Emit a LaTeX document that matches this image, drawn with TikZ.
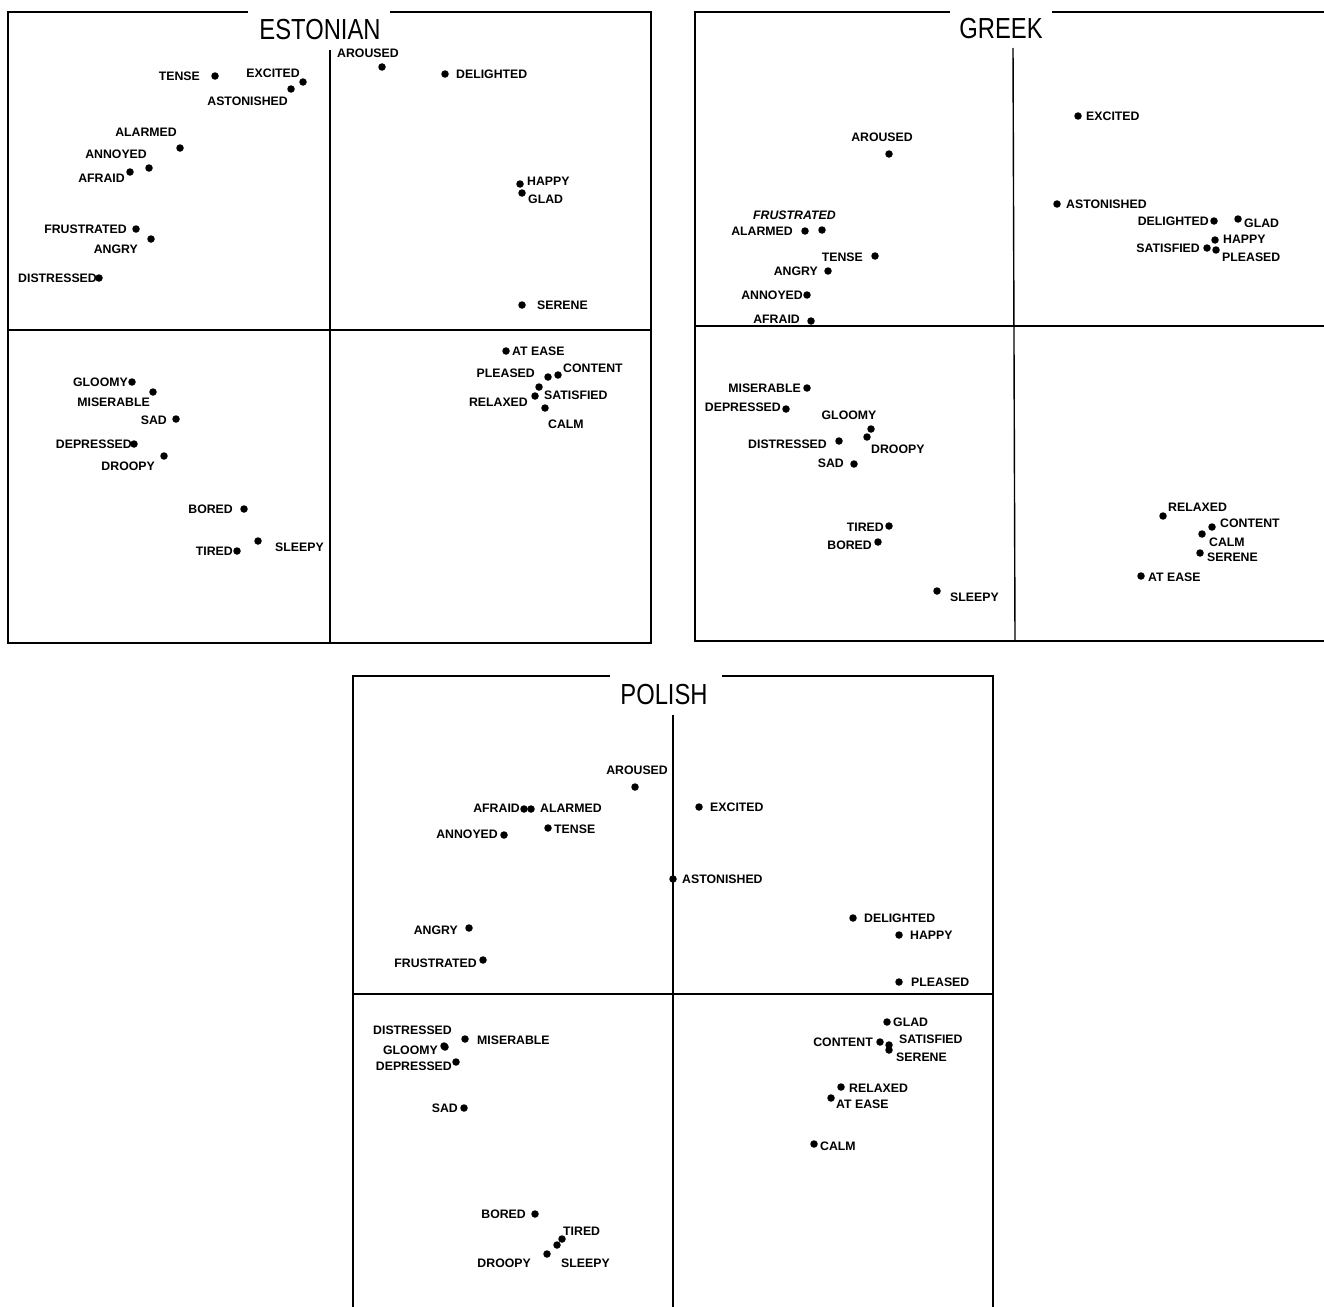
\documentclass[tikz,border=0pt]{standalone}
\usepackage{fontspec}
\setmainfont{Liberation Sans}
\newfontfamily\labfont{Liberation Sans}
\newfontfamily\titfont[FakeStretch=0.82]{Liberation Sans}
\tikzset{
  dot/.style={circle, fill=black, inner sep=0pt, minimum size=7.5pt},
  lab/.style={font=\labfont\bfseries\fontsize{12.3}{14}\selectfont, inner sep=0pt, text height=8.8pt, text depth=0pt},
  frame/.style={line width=2pt, line join=miter},
  axisline/.style={line width=1.4pt},
  ttl/.style={font=\titfont\fontsize{29}{32}\selectfont, inner sep=0pt, anchor=base},
}
% name, dot x, dot y, label anchor, label x, label y, text
\newcommand\Emo[7]{%
  \node[dot] (#1) at (#2,#3) {};
  \node[lab,anchor=#4] (#1l) at (#5,#6) {#7};}
\begin{document}
\begin{tikzpicture}[x=1pt,y=-1pt]
\useasboundingbox (0,0) rectangle (1324,1306);
\fill[white] (0,0) rectangle (1324,1306);

%%%%%%%%%%%%%%%% ESTONIAN
\node[ttl] (t-est) at (320,40) {ESTONIAN};
\draw[frame] (248,12) -| (8,643) -| (651,12) -- (390,12);
\draw[axisline] (330,50) -- (330,643);
\draw[axisline] (8,330) -- (651,330);

\Emo{e-tense}{215}{76}{east}{200}{76}{TENSE}
\Emo{e-excited}{303}{82}{east}{300}{73}{EXCITED}
\Emo{e-astonished}{291}{89}{east}{288}{101}{ASTONISHED}
\Emo{e-alarmed}{180}{148}{east}{177}{132}{ALARMED}
\Emo{e-annoyed}{149}{168}{east}{147}{154}{ANNOYED}
\Emo{e-afraid}{130}{172}{east}{125}{178}{AFRAID}
\Emo{e-frustrated}{136}{229}{east}{127}{229}{FRUSTRATED}
\Emo{e-angry}{151}{239}{east}{138}{249}{ANGRY}
\Emo{e-distressed}{99}{278}{east}{97}{278}{DISTRESSED}
\Emo{e-aroused}{382}{67}{west}{337}{53}{AROUSED}
\Emo{e-delighted}{445}{74}{west}{456}{74}{DELIGHTED}
\Emo{e-happy}{520}{184}{west}{527}{181}{HAPPY}
\Emo{e-glad}{522}{193}{west}{528}{199}{GLAD}
\Emo{e-serene}{522}{305}{west}{537}{305}{SERENE}
\Emo{e-gloomy}{132}{382}{east}{128}{382}{GLOOMY}
\Emo{e-miserable}{153}{392}{east}{150}{402}{MISERABLE}
\Emo{e-sad}{176}{419}{east}{167}{420}{SAD}
\Emo{e-depressed}{134}{444}{east}{132}{444}{DEPRESSED}
\Emo{e-droopy}{164}{456}{east}{155}{466}{DROOPY}
\Emo{e-bored}{244}{509}{east}{233}{509}{BORED}
\Emo{e-tired}{237}{551}{east}{233}{551}{TIRED}
\Emo{e-sleepy}{258}{541}{west}{275}{547}{SLEEPY}
\Emo{e-atease}{506}{351}{west}{512}{351}{AT EASE}
\Emo{e-pleased}{548}{377}{east}{535}{373}{PLEASED}
\Emo{e-content}{558}{375}{west}{563}{368}{CONTENT}
\Emo{e-satisfied}{539}{387}{west}{544}{395}{SATISFIED}
\Emo{e-relaxed}{535}{396}{east}{528}{402}{RELAXED}
\Emo{e-calm}{545}{408}{west}{548}{424}{CALM}

%%%%%%%%%%%%%%%% GREEK
\node[ttl] (t-gr) at (1001,38) {GREEK};
\draw[frame] (950,12) -| (695,641) -- (1330,641);
\draw[frame] (1052,12) -- (1330,12);
\draw[axisline] (1013,48) -- (1015,641);
\draw[axisline] (695,326) -- (1330,326);

\Emo{g-aroused}{889}{154}{center}{882}{137}{AROUSED}
\node[dot] (g-frustrated) at (822,230) {};
\node[lab,anchor=west,font=\labfont\bfseries\itshape\fontsize{12.3}{14}\selectfont] (g-frustratedl) at (753,215) {FRUSTRATED};
\Emo{g-alarmed}{805}{231}{east}{793}{231}{ALARMED}
\Emo{g-tense}{875}{256}{east}{863}{257}{TENSE}
\Emo{g-angry}{828}{271}{east}{818}{271}{ANGRY}
\Emo{g-annoyed}{807}{295}{east}{803}{295}{ANNOYED}
\Emo{g-afraid}{811}{321}{east}{800}{319}{AFRAID}
\Emo{g-excited}{1078}{116}{west}{1086}{116}{EXCITED}
\Emo{g-astonished}{1057}{204}{west}{1066}{204}{ASTONISHED}
\Emo{g-delighted}{1214}{221}{east}{1209}{221}{DELIGHTED}
\Emo{g-glad}{1238}{219}{west}{1244}{223}{GLAD}
\Emo{g-happy}{1215}{240}{west}{1223}{239}{HAPPY}
\Emo{g-satisfied}{1207}{248}{east}{1200}{248}{SATISFIED}
\Emo{g-pleased}{1216}{250}{west}{1222}{257}{PLEASED}
\Emo{g-miserable}{807}{388}{east}{801}{388}{MISERABLE}
\Emo{g-depressed}{786}{409}{east}{781}{407}{DEPRESSED}
\Emo{g-gloomy}{871}{429}{center}{849}{415}{GLOOMY}
\Emo{g-droopy}{867}{437}{west}{871}{449}{DROOPY}
\Emo{g-distressed}{839}{441}{east}{827}{444}{DISTRESSED}
\Emo{g-sad}{854}{464}{east}{844}{463}{SAD}
\Emo{g-tired}{889}{526}{east}{884}{527}{TIRED}
\Emo{g-bored}{878}{542}{east}{872}{545}{BORED}
\Emo{g-sleepy}{937}{591}{west}{950}{597}{SLEEPY}
\Emo{g-relaxed}{1163}{516}{west}{1168}{507}{RELAXED}
\Emo{g-content}{1212}{527}{west}{1220}{523}{CONTENT}
\Emo{g-calm}{1202}{534}{west}{1209}{542}{CALM}
\Emo{g-serene}{1200}{553}{west}{1207}{557}{SERENE}
\Emo{g-atease}{1141}{576}{west}{1148}{577}{AT EASE}

%%%%%%%%%%%%%%%% POLISH
\node[ttl] (t-pl) at (664,704) {POLISH};
\draw[frame] (610,676) -| (353,1312);
\draw[frame] (722,676) -| (993,1312);
\draw[axisline] (673,715) -- (673,1312);
\draw[axisline] (353,994) -- (993,994);

\Emo{p-aroused}{635}{787}{east}{668}{770}{AROUSED}
\Emo{p-afraid}{524}{809}{east}{520}{808}{AFRAID}
\Emo{p-alarmed}{531}{809}{west}{540}{808}{ALARMED}
\Emo{p-tense}{548}{828}{west}{554}{829}{TENSE}
\Emo{p-annoyed}{504}{835}{east}{498}{834}{ANNOYED}
\Emo{p-astonished}{673}{879}{west}{682}{879}{ASTONISHED}
\Emo{p-angry}{469}{928}{east}{458}{930}{ANGRY}
\Emo{p-frustrated}{483}{960}{east}{477}{963}{FRUSTRATED}
\Emo{p-excited}{699}{807}{west}{710}{807}{EXCITED}
\Emo{p-delighted}{853}{918}{west}{864}{918}{DELIGHTED}
\Emo{p-happy}{899}{935}{west}{910}{935}{HAPPY}
\Emo{p-pleased}{899}{982}{west}{911}{982}{PLEASED}
\Emo{p-distressed}{444}{1046}{east}{452}{1030}{DISTRESSED}
\Emo{p-miserable}{465}{1039}{west}{477}{1040}{MISERABLE}
\Emo{p-gloomy}{445}{1047}{east}{438}{1050}{GLOOMY}
\Emo{p-depressed}{456}{1062}{east}{452}{1066}{DEPRESSED}
\Emo{p-sad}{464}{1108}{east}{458}{1108}{SAD}
\Emo{p-bored}{535}{1214}{east}{526}{1214}{BORED}
\Emo{p-tired}{562}{1239}{west}{563}{1231}{TIRED}
\Emo{p-sleepy}{557}{1245}{west}{561}{1263}{SLEEPY}
\Emo{p-droopy}{547}{1254}{east}{531}{1263}{DROOPY}
\Emo{p-glad}{887}{1022}{west}{893}{1022}{GLAD}
\Emo{p-content}{880}{1042}{east}{873}{1042}{CONTENT}
\Emo{p-satisfied}{889}{1045}{west}{899}{1039}{SATISFIED}
\Emo{p-serene}{889}{1050}{west}{896}{1057}{SERENE}
\Emo{p-relaxed}{841}{1087}{west}{849}{1088}{RELAXED}
\Emo{p-atease}{831}{1098}{west}{836}{1104}{AT EASE}
\Emo{p-calm}{814}{1144}{west}{820}{1146}{CALM}
\end{tikzpicture}
\end{document}
